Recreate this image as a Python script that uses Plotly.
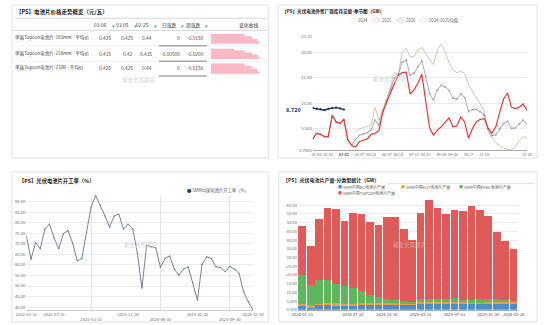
import plotly.graph_objects as go
import pandas as pd

W, H = 550, 325
FONT = "Noto Sans CJK SC, Noto Sans, sans-serif"
TXT = "#333333"
AX = "#666666"
GRID = "#ebebeb"

# ---------------- Panel 1 : price table ----------------
row_names = ["单晶Topcon电池片-183mm - 平均价",
             "单晶Topcon电池片-210mm - 平均价",
             "单晶Topcon电池片-210R - 平均价"]
col_headers = ["03-06", "03-05", "02-25", "日涨跌", "周涨跌"]
price_0306 = [0.425, 0.415, 0.425]
price_0305 = [0.425, 0.42, 0.425]
price_0225 = [0.44, 0.435, 0.44]
chg_day = [0, -0.005, 0]
chg_week = [-0.015, -0.02, -0.015]
spark_183 = [0.44, 0.44, 0.44, 0.44, 0.44, 0.44, 0.44, 0.44, 0.44, 0.44, 0.44, 0.44, 0.44,
             0.435, 0.435, 0.435, 0.43, 0.43, 0.425, 0.425]
spark_210 = [0.435, 0.435, 0.435, 0.435, 0.435, 0.435, 0.435, 0.435, 0.435, 0.43, 0.43, 0.43, 0.43,
             0.425, 0.425, 0.425, 0.42, 0.42, 0.415, 0.415]
spark_210r = [0.44, 0.44, 0.44, 0.44, 0.44, 0.44, 0.44, 0.44, 0.44, 0.44, 0.44, 0.44, 0.44,
              0.435, 0.435, 0.435, 0.43, 0.43, 0.425, 0.425]

# ---------------- Panel 2 : inventory seasonal ----------------
inv_dates = ["01-01", "01-05", "01-12", "01-19", "02-02", "02-09", "02-16", "02-23", "03-02", "03-09",
             "03-16", "03-23", "04-07", "04-13", "04-19", "04-25", "05-05", "05-12", "05-19", "05-27",
             "06-03", "06-14", "06-24", "06-30", "07-07", "07-14", "07-21", "07-28", "08-04", "08-12",
             "08-19", "08-26", "09-01", "09-06", "09-15", "09-22", "09-30", "10-09", "10-14", "10-20",
             "10-27", "11-03", "11-06", "11-11", "11-18", "11-25", "12-01", "12-04", "12-08", "12-11",
             "12-15", "12-18", "12-22", "12-24", "12-27", "12-30"]
inv_2024 = [None] * 11 + [4.35, 4.9, 5.2, 5.4, 5.6, 9.2, 6.6, 8.8, 10.8, 13.2, 16.0, 15.8, 20.2, 20.8,
                          19.1, 19.2, 20.5, 21.0, 19.7, 18.6, 17.6, 20.5, 21.7, 20.2, 17.9, 16.6, 16.0,
                          16.3, 15.9, 13.6, 12.4, 11.2, 9.8, 8.4, 4.6, 3.1, 2.2, 1.6, 1.1, 0.85, 0.8,
                          1.3, 2.6, 3.4, 3.06]
inv_2025 = [2.93, 4.03, 3.84, 3.39, 3.39, 7.58, 6.29, 5.97, 6.81, 2.74, 1.64, 1.32, 2.42, 2.67, 2.93,
            3.84, 4.03, 4.6, 8.23, 10.17, 12.2, 13.9, 15.5, 16.0, 16.1, 11.8, 12.6, 13.9, 15.7, 10.8,
            5.13, 3.7, 4.68, 5.32, 6.16, 7.07, 5.32, 5.5, 7.26, 6.29, 3.06, 5.0, 6.29, 6.8, 6.94,
            5.13, 4.03, 5.32, 8.23, 10.8, 12.0, 9.2, 8.9, 9.2, 9.85, 8.55]
inv_2026 = [9.0, 8.9, 8.8, 8.6, 8.85, 9.05, 9.1, 8.95, 8.72]
inv_mean = [2.93, 4.03, 3.84, 3.39, 3.39, 7.58, 6.29, 5.97, 6.81, 2.74, 1.64, 2.84, 3.66, 3.94, 4.17,
            4.72, 6.62, 5.6, 8.52, 10.49, 12.7, 14.95, 15.65, 18.1, 18.45, 15.45, 15.9, 17.2, 18.35,
            15.25, 11.87, 10.65, 12.59, 13.51, 13.18, 12.49, 10.96, 10.75, 11.78, 11.1, 8.33, 8.7,
            8.75, 8.3, 7.67, 4.87, 3.57, 3.76, 4.92, 5.95, 6.43, 5.0, 5.1, 5.9, 6.63, 5.8]
inv_ticks = ["01-05", "02-02", "03-02", "04-07", "04-25", "05-27", "06-24", "07-21", "08-12",
             "09-06", "09-30", "10-27", "11-18", "12-30"]
inv_yticks = [0.7, 5, 10, 15, 20, 23.1]

# ---------------- Panel 3 : operating rate ----------------
op_dates = [d.strftime("%Y-%m-%d") for d in pd.date_range("2022-01-31", periods=50, freq="ME")]
op_rate = [73.8, 62.7, 70.7, 67.6, 77.0, 79.4, 72.8, 67.6, 74.8, 76.3, 70.4, 61.9, 63.0, 75.4, 87.5,
           92.9, 88.3, 83.2, 77.9, 83.2, 84.1, 77.0, 79.3, 77.1, 65.8, 49.0, 69.2, 68.6, 68.1, 58.8,
           63.1, 64.2, 58.0, 55.2, 58.0, 59.1, 51.8, 43.3, 60.3, 63.8, 63.0, 59.1, 58.8, 56.8, 59.3,
           58.0, 56.0, 47.2, 42.5, 38.6]
op_ticks_a = [0, 6, 22, 37, 49]
op_ticks_b = [14, 29, 44]
op_yticks = [40, 45, 50, 55, 60, 65, 70, 75, 80, 85, 90]

# ---------------- Panel 4 : production by type ----------------
prod_dates = ["2024-01-31", "2024-02-29", "2024-03-31", "2024-04-30", "2024-05-31", "2024-06-30",
              "2024-07-31", "2024-08-31", "2024-09-30", "2024-10-31", "2024-11-30", "2024-12-31",
              "2025-01-31", "2025-02-28", "2025-03-31", "2025-04-30", "2025-05-31", "2025-06-30",
              "2025-07-31", "2025-08-31", "2025-09-30", "2025-10-31", "2025-11-30", "2025-12-31",
              "2026-01-31", "2026-02-28"]
prod_bc = [2.4, 1.5, 2.8, 2.8, 2.4, 2.25, 2.6, 2.6, 2.6, 2.8, 2.8, 2.8, 2.8, 2.8, 3.4, 3.4, 3.4,
           3.6, 3.6, 3.4, 3.4, 3.6, 3.75, 3.75, 3.75, 3.6]
prod_hjt = [0.8, 1.1, 0.6, 0.8, 1.35, 0.95, 0.8, 1.15, 1.15, 1.1, 1.1, 0.9, 0.75, 0.55, 0.9, 0.9,
            1.1, 0.75, 0.95, 0.9, 0.75, 0.55, 0.55, 0.75, 0.75, 1.1]
prod_perc = [16.9, 11.5, 13.9, 13.7, 11.25, 10.3, 9.2, 6.95, 4.7, 3.2, 2.1, 1.7, 1.3, 1.0, 1.7, 1.8,
             1.7, 2.05, 2.35, 1.5, 1.4, 2.05, 1.7, 1.5, 0.9, 0.4]
prod_topcon = [28.1, 22.5, 35.0, 40.9, 43.1, 37.7, 42.7, 44.0, 42.0, 41.6, 47.4, 47.7, 41.4, 35.4,
               49.3, 57.0, 52.0, 48.5, 50.3, 50.8, 53.8, 51.2, 48.0, 38.8, 34.3, 30.0]
prod_ticks = ["2024-01-31", "2024-07-31", "2024-11-30", "2025-03-31", "2025-07-31", "2025-11-30",
              "2026-02-28"]
prod_yticks = [0, 5, 10, 15, 20, 25, 30, 35, 40, 45, 50, 55, 60]


def fx(x):
    return x / W


def fy(y):
    return 1 - y / H


def fmt4(v):
    return "{:#.4g}".format(v)


def fmt_chg(v):
    return "0" if v == 0 else "{:#.3g}".format(v)


fig = go.Figure()
shapes = []
ann = []


def text(x, y, s, size=5, color=TXT, xanchor="left", yanchor="middle"):
    ann.append(dict(xref="paper", yref="paper", x=fx(x), y=fy(y), text=s, showarrow=False,
                    xanchor=xanchor, yanchor=yanchor, borderpad=0,
                    font=dict(size=size, color=color, family=FONT)))


def hline(x0, x1, y, color="#e0e0e0", width=1):
    shapes.append(dict(type="line", xref="paper", yref="paper", x0=fx(x0), x1=fx(x1),
                       y0=fy(y), y1=fy(y), line=dict(color=color, width=width)))


def card(x0, y0, x1, y1):
    shapes.append(dict(type="rect", xref="paper", yref="paper", x0=fx(x0), x1=fx(x1),
                       y0=fy(y1), y1=fy(y0), line=dict(color="#e2e2e2", width=1),
                       fillcolor="white", layer="below"))


card(1, 1, 268, 157)
card(278, 1, 548, 157)
card(1, 171, 268, 324)
card(279, 171, 548, 324)

# ---------- Panel 1 table ----------
text(4, 8, "<b>【PS】电池片价格走势概览（元/瓦）</b>", size=5.5, color="#222")
hline(4, 266, 14.5, "#d6d6d6", 1.2)
val_right = [105, 128, 148, 177, 202]
icon_x = [106.5, 129.5, 150, 178.5, 203.5]
hdr_right = [101, 124, 145, 174, 199]
for i, h in enumerate(col_headers):
    text(hdr_right[i], 21, h, size=4.8, color="#333", xanchor="right")
    text(icon_x[i], 22.5, "▾", size=4.5, color="#27b3a6", xanchor="center")
text(258, 21, "变化曲线", size=4.8, color="#333", xanchor="right")
hline(1, 268, 27, "#dcdcdc", 1)
row_y = [34.5, 50, 65]
cols = [price_0306, price_0305, price_0225]
for r in range(3):
    text(3, row_y[r], row_names[r], size=4.6, color="#444")
    for c in range(3):
        text(val_right[c], row_y[r], str(cols[c][r]), size=4.8, color="#444", xanchor="right")
    text(val_right[3], row_y[r], fmt_chg(chg_day[r]), size=4.8, color="#444", xanchor="right")
    text(val_right[4], row_y[r], fmt_chg(chg_week[r]), size=4.8, color="#444", xanchor="right")
row_sep = [42.5, 58.3, 73.3]
for yy in row_sep[:2]:
    hline(1, 268, yy, "#eeeeee", 0.8)
for yy in row_sep:
    hline(154, 204, yy, "#a8a8a8", 1.6)
text(133, 77, "紫金天风期货", size=5.5, color="#d3d3d3", xanchor="center")

sparks = [spark_183, spark_210, spark_210r]
spark_top = [30.5, 45.5, 60.5]
spark_bot = [40.5, 56.0, 71.0]
for i, sp in enumerate(sparks):
    n = i + 6
    lo, hi = min(sp), max(sp)
    fig.add_trace(go.Scatter(x=list(range(len(sp))), y=sp, mode="lines", line=dict(color="#f9b3c0", width=0.8, shape="hv"),
                             fill="tozeroy", fillcolor="#fbb9c6", showlegend=False, hoverinfo="skip",
                             xaxis=f"x{n}", yaxis=f"y{n}"))
    fig.update_layout(**{
        f"xaxis{n}": dict(domain=[fx(208), fx(259)], range=[0, len(sp) - 1], visible=False, fixedrange=True),
        f"yaxis{n}": dict(domain=[fy(spark_bot[i]), fy(spark_top[i])],
                          range=[lo - 0.2 * (hi - lo), hi], visible=False, fixedrange=True),
    })

# ---------- Panel 2 ----------
text(281, 7.5, "<b>【PS】光伏电池外贸厂商库存总量-季节图（GW）</b>", size=4.6, color="#222")
leg2 = [("2024", "#d9c6b0"), ("2025", "#e03a3a"), ("2026", "#1d3557"), ("2024-2025均值", "#9a9a9a")]
leg2_x = [350, 375, 400, 424]
for (nm, colr), lx in zip(leg2, leg2_x):
    text(lx, 17, f"<span style='color:{colr}'>–○–</span><span style='color:#666'> {nm}</span>", size=4.3)

fig.add_trace(go.Scatter(x=inv_dates, y=inv_2024, mode="lines", line=dict(color="#d6c3ad", width=1),
                         xaxis="x2", yaxis="y2", showlegend=False, connectgaps=False))
fig.add_trace(go.Scatter(x=inv_dates, y=inv_mean, mode="lines+markers",
                         line=dict(color="#a0a0a0", width=0.9),
                         marker=dict(size=2, color="#a0a0a0", symbol="x-thin", line=dict(width=0.6, color="#8a8a8a")),
                         xaxis="x2", yaxis="y2", showlegend=False))
fig.add_trace(go.Scatter(x=inv_dates, y=inv_2025, mode="lines", line=dict(color="#e03a3a", width=1.2),
                         xaxis="x2", yaxis="y2", showlegend=False))
fig.add_trace(go.Scatter(x=inv_dates[:len(inv_2026)], y=inv_2026, mode="lines+markers",
                         line=dict(color="#1d3557", width=1.4), marker=dict(size=2.2, color="#1d3557"),
                         xaxis="x2", yaxis="y2", showlegend=False))
ticktext2 = [("<b>%s</b>" % t if t == "03-02" else t) for t in inv_ticks]
fig.update_layout(
    xaxis2=dict(domain=[fx(314.3), fx(537.5)], type="category", categoryorder="array",
                categoryarray=inv_dates, range=[0, len(inv_dates) - 1], tickvals=inv_ticks,
                ticktext=ticktext2, tickfont=dict(size=3.8, color=AX, family=FONT), showgrid=False,
                showline=True, linecolor="#aaaaaa", linewidth=0.8, ticks="", anchor="y2", tickangle=0),
    yaxis2=dict(domain=[fy(149), fy(33.3)], range=[0.7, 23.1], tickvals=inv_yticks,
                ticktext=[fmt4(v) for v in inv_yticks], tickfont=dict(size=4.2, color=AX, family=FONT),
                showgrid=True, gridcolor=GRID, gridwidth=0.8, zeroline=False, showline=False,
                anchor="x2", ticks=""),
)
ann.append(dict(xref="paper", yref="y2", x=fx(304), y=inv_2026[-1], text="<b>8.720</b>", showarrow=False,
                xanchor="right", yanchor="middle", font=dict(size=5.5, color="#1d3557", family=FONT)))
text(395, 76, "紫金天风期货", size=5.5, color="#d3d3d3", xanchor="center")

# ---------- Panel 3 ----------
text(7, 180, "<b>【PS】光伏电池片开工率（%）</b>", size=5.3, color="#222")
text(182, 190, "<span style='color:#1d3557'>●</span><span style='color:#555'> SMM中国电池片开工率（%）</span>", size=4.3)
fig.add_trace(go.Scatter(x=op_dates, y=op_rate, mode="lines+markers", line=dict(color="#62758c", width=0.9),
                         marker=dict(size=1.3, color="#62758c"), xaxis="x3", yaxis="y3", showlegend=False))
fig.add_trace(go.Scatter(x=op_dates, y=op_rate, mode="lines", line=dict(width=0), opacity=0,
                         xaxis="x5", yaxis="y3", showlegend=False, hoverinfo="skip"))
fig.update_layout(
    xaxis3=dict(domain=[fx(16), fx(252)], type="category", categoryarray=op_dates, categoryorder="array",
                range=[0, len(op_dates) - 1], tickvals=[op_dates[i] for i in op_ticks_a],
                tickfont=dict(size=4.2, color=AX, family=FONT), showgrid=False, showline=True,
                linecolor="#cccccc", linewidth=0.8, ticks="", anchor="y3", tickangle=0),
    xaxis5=dict(domain=[fx(16), fx(252)], type="category", categoryarray=op_dates, categoryorder="array",
                range=[0, len(op_dates) - 1], tickvals=[op_dates[i] for i in op_ticks_b],
                tickfont=dict(size=4.2, color=AX, family=FONT), showgrid=True, gridcolor="#e4e4e4",
                gridwidth=0.8, showline=False, ticks="", overlaying="x3", anchor="y3",
                ticklabelstandoff=6, tickangle=0),
    yaxis3=dict(domain=[fy(311.8), fy(194.9)], range=[38.6, 93.0], tickvals=op_yticks,
                ticktext=[fmt4(v) for v in op_yticks], tickfont=dict(size=4.2, color=AX, family=FONT),
                showgrid=True, gridcolor=GRID, gridwidth=0.8, zeroline=False, anchor="x3", ticks=""),
)
text(135, 246, "紫金天风期货", size=5.5, color="#d3d3d3", xanchor="center")

# ---------- Panel 4 ----------
text(282, 179, "<b>【PS】光伏电池片产量-分类型统计（GW）</b>", size=5.0, color="#222")
hline(392, 546, 183, "#e4e4e4", 1)
series4 = [("SMM中国BC电池片产量", prod_bc, "#4b8ecb"), ("SMM中国HJT电池片产量", prod_hjt, "#f59b3d"),
           ("SMM中国PERC电池片产量", prod_perc, "#5db75c"), ("SMM中国TOPCon电池片产量", prod_topcon, "#e05a5a")]
for nm, vals, colr in series4:
    fig.add_trace(go.Bar(x=prod_dates, y=vals, name=nm, marker=dict(color=colr, line=dict(width=0)),
                         xaxis="x4", yaxis="y4", showlegend=False))
leg4_pos = [(340, 186), (405, 186), (466, 186), (340, 192.5)]
for (nm, vals, colr), (lx, ly) in zip(series4, leg4_pos):
    text(lx, ly, f"<span style='color:{colr}'>●</span><span style='color:#555'> {nm}</span>", size=4.0)
fig.update_layout(
    barmode="stack", bargap=0.1,
    xaxis4=dict(domain=[fx(299), fx(528)], type="category", categoryarray=prod_dates, categoryorder="array",
                tickvals=prod_ticks, tickfont=dict(size=4.2, color="#444", family=FONT), showgrid=False,
                showline=True, linecolor="#aaaaaa", linewidth=0.8, ticks="", anchor="y4", tickangle=0),
    yaxis4=dict(domain=[fy(311.5), fy(198.8)], range=[0, 63.5], tickvals=prod_yticks,
                ticktext=[fmt4(v) for v in prod_yticks], tickfont=dict(size=4.2, color=AX, family=FONT),
                showgrid=True, gridcolor=GRID, gridwidth=0.8, zeroline=False, anchor="x4", ticks=""),
)
text(416, 246, "紫金天风期货", size=5.5, color="#d9a0a0", xanchor="center")

fig.update_layout(
    width=W, height=H, margin=dict(l=0, r=0, t=0, b=0),
    paper_bgcolor="white", plot_bgcolor="rgba(0,0,0,0)",
    font=dict(family=FONT, size=5, color=TXT),
    showlegend=False, shapes=shapes, annotations=ann,
    xaxis=dict(visible=False), yaxis=dict(visible=False),
)
fig.write_html("out.html")
